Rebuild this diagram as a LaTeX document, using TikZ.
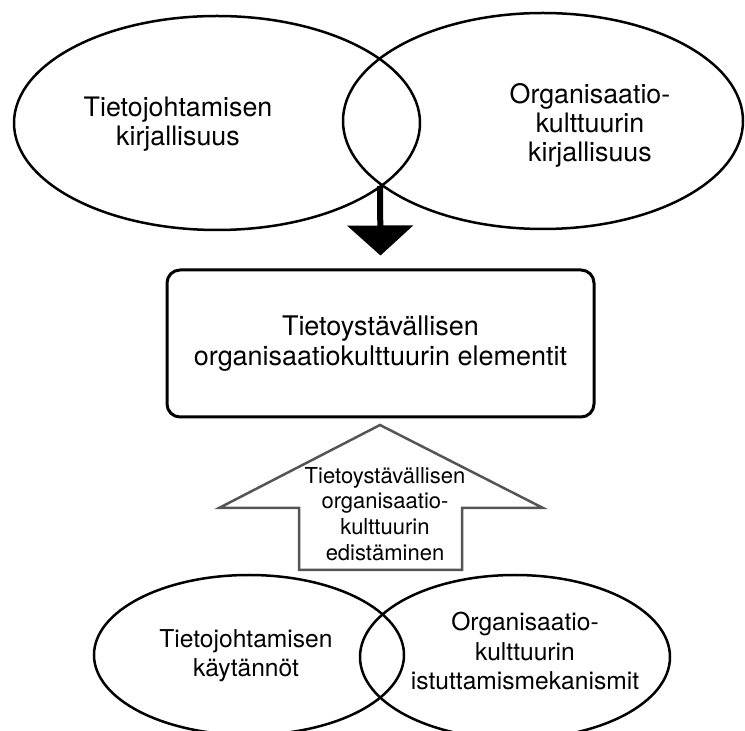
\documentclass[tikz,border=0pt]{standalone}
\usepackage{fontspec}
\setmainfont{TeX Gyre Heros}
\usepackage{tikz}
\usetikzlibrary{arrows.meta,positioning,shapes.geometric}
\definecolor{promogray}{RGB}{85,85,85}
\newcommand{\vennfont}{\fontsize{12.3}{14.6}\selectfont}
\newcommand{\litfont}{\fontsize{13.4}{14.5}\selectfont}

\begin{document}
\begin{tikzpicture}[x=.5pt,y=-.5pt,
    venn/.style={draw,ellipse,line width=1.25pt,inner sep=0pt},
    venntext/.style={align=center,font=\vennfont},
    elembox/.style={draw,rounded corners=6.5pt,line width=1.5pt,align=center,
      minimum width=213.5pt,minimum height=73.5pt,
      font=\fontsize{13.5}{15}\selectfont},
    promo/.style={draw=promogray,line width=1.25pt,line join=miter},
    promotext/.style={align=center,font=\fontsize{11}{12.9}\selectfont}]
    \useasboundingbox (0,0) rectangle (745,731);
    \clip (0,0) rectangle (745,731);
    % literature
    \node[venn,minimum width=203pt,minimum height=107pt] (tjlit) at (217,123) {};
    \node[venn,minimum width=200pt,minimum height=108pt] (oklit) at (543,121) {};
    \node[venntext,font=\litfont] (tjlittext) at (178,124) {Tietojohtamisen\\kirjallisuus};
    \node[venntext,font=\litfont] (oklittext) at (590,125) {Organisaatio-\\kulttuurin\\kirjallisuus};
    % elements
    \node[elembox] (elem) at (380.5,343.5) {Tietoystävällisen\\organisaatiokulttuurin elementit};
    \coordinate (meet) at (380,186);
    \draw[line width=3pt,-{Triangle[width=32.5pt,length=15pt]}] (meet) -- ([yshift=6.5pt]elem.north);
    % promotion arrow
    \draw[promo] (380,425) -- (543,508) -- (462,508) -- (462,570)
      -- (299,570) -- (299,508) -- (219,508) -- cycle;
    \node[promotext] (promotxt) at (385,514) {Tietoystävällisen\\organisaatio-\\kulttuurin\\edistäminen};
    % practice
    \node[venn,minimum width=155pt,minimum height=80pt] (tjprac) at (249,655) {};
    \node[venn,minimum width=155pt,minimum height=82pt] (okmech) at (515,657) {};
    \node[venntext] (tjpractext) at (246,656) {Tietojohtamisen\\käytännöt};
    \node[venntext] (okmechtext) at (525,651) {Organisaatio-\\kulttuurin\\istuttamismekanismit};
\end{tikzpicture}
\end{document}
